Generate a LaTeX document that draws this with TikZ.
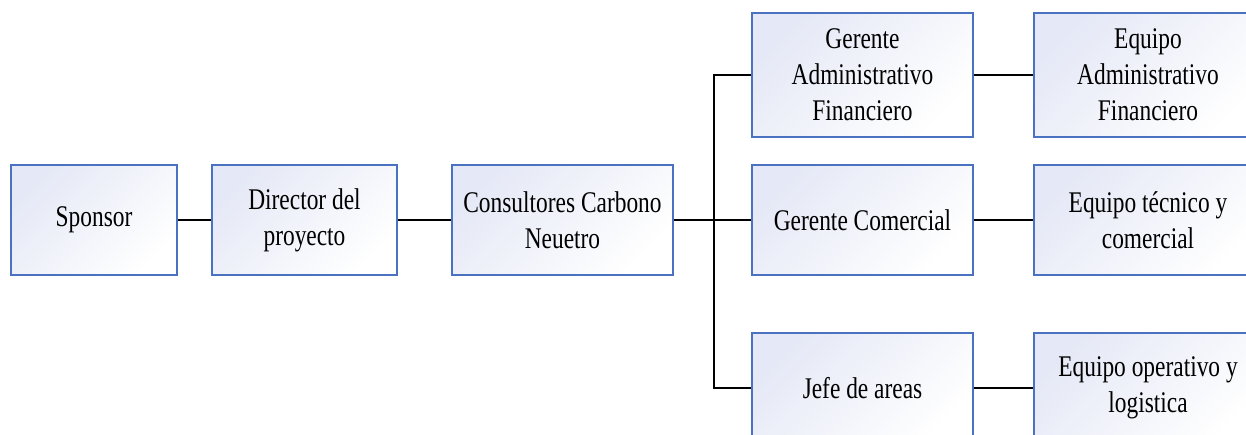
\documentclass[tikz,border=0pt]{standalone}
\usepackage{fontspec}
\setmainfont{Liberation Serif}[FakeStretch=0.78]
\definecolor{boxline}{HTML}{4A72C0}
\definecolor{boxgrad}{HTML}{E5E8F6}
\begin{document}
\begin{tikzpicture}[x=1pt,y=-1pt,
  box/.style={draw=boxline, line width=1.2pt, top color=boxgrad, bottom color=white, shading angle=45,
    align=center, inner sep=0pt, font=\fontsize{30}{36}\selectfont},
  link/.style={line width=2.6pt, black},
  thinlink/.style={line width=1.6pt, black}]
\useasboundingbox (0,0) rectangle (1246,435);
\clip (0,0) rectangle (1246,435);
\node[box, minimum width=166pt, minimum height=110pt] (sp) at (94,220) {Sponsor};
\node[box, minimum width=185pt, minimum height=110pt] (dir) at (304.5,220) {Director del\\proyecto};
\node[box, minimum width=221pt, minimum height=110pt] (cons) at (562.5,220) {Consultores Carbono\\Neuetro};
\node[box, minimum width=221pt, minimum height=124pt] (gaf) at (862.5,75) {Gerente\\Administrativo\\Financiero};
\node[box, minimum width=221pt, minimum height=110pt] (gc) at (862.5,220) {Gerente Comercial};
\node[box, minimum width=221pt, minimum height=110pt] (jefe) at (862.5,388) {Jefe de areas};
\node[box, minimum width=228pt, minimum height=124pt] (eaf) at (1148,75) {Equipo\\Administrativo\\Financiero};
\node[box, minimum width=228pt, minimum height=110pt] (etc) at (1148,220) {Equipo técnico y\\comercial};
\node[box, minimum width=228pt, minimum height=110pt] (eol) at (1148,388) {Equipo operativo y\\logistica};
\coordinate (tk) at (714,220);
\draw[link] (sp) -- (dir);
\draw[thinlink] (dir) -- (cons);
\draw[link] (cons) -- (gc);
\draw[link] (gaf.west) -| (tk) |- (jefe.west);
\draw[link] (gaf) -- (eaf);
\draw[link] (gc) -- (etc);
\draw[thinlink] (jefe) -- (eol);
\end{tikzpicture}
\end{document}
